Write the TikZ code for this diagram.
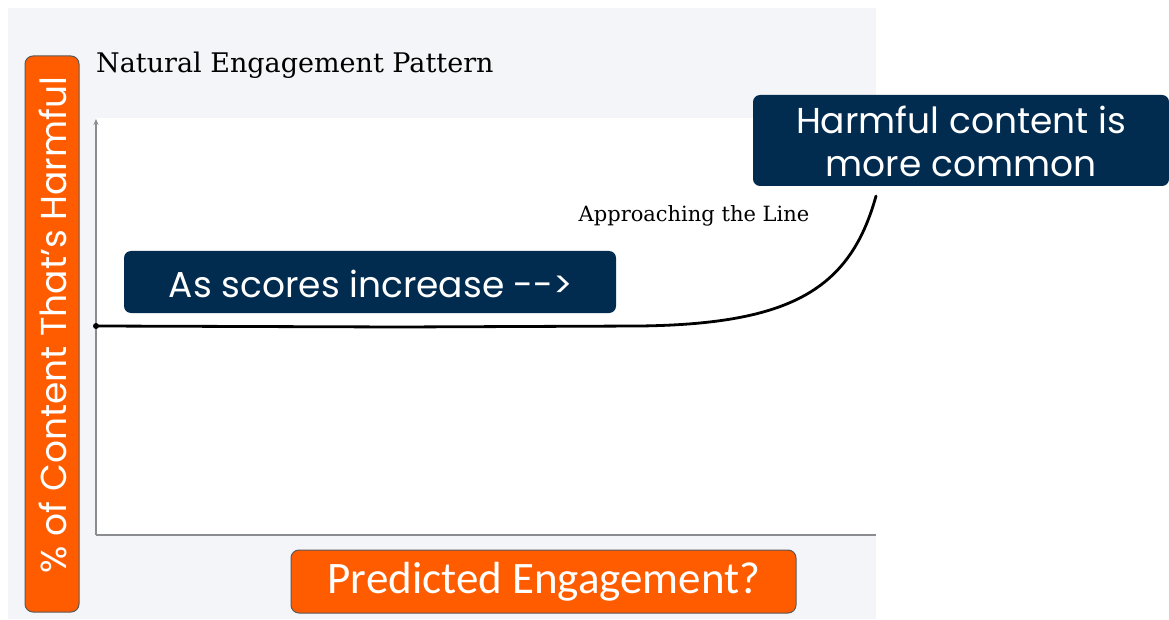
\documentclass[tikz,border=0pt]{standalone}
\usepackage{fontspec}
\usetikzlibrary{arrows.meta}
\setmainfont{DejaVu Serif}
\newfontfamily\boxfont{Poppins}
\newfontfamily\condfont{Carlito}
\definecolor{panel}{HTML}{F3F5F9}
\definecolor{navy}{HTML}{022C4F}
\definecolor{orng}{HTML}{FF5C00}
\definecolor{axisgray}{HTML}{8A8C90}
\tikzset{
  navybox/.style={fill=navy, rounded corners=7pt},
  boxtext/.style={text=white, font=\boxfont\fontsize{36}{43}\selectfont, inner sep=0pt, align=center},
  orngbox/.style={fill=orng, draw=black!65, line width=1pt, rounded corners=8pt},
  axisline/.style={draw=axisgray, line width=1.2pt},
}
\begin{document}
\begin{tikzpicture}[x=1pt,y=-1pt]
\useasboundingbox (0,0) rectangle (1169,620);
\fill[white] (0,0) rectangle (1169,620);
% panel
\fill[panel] (8,8) rectangle (876,619);
\fill[white] (96,118) rectangle (876,535);
% title
\node[anchor=base west, font=\fontsize{27}{32}\selectfont, inner sep=0pt] (title) at (96,73) {Natural Engagement Pattern};
% axes
\coordinate (origin) at (96,535);
\coordinate (ytop) at (96,119);
\coordinate (xend) at (876,535);
\draw[axisline, -{Stealth[length=6pt,width=5pt]}] (origin) -- (ytop);
\draw[axisline] (origin) -- (xend);
% curve
\coordinate (c0) at (96,326);
\coordinate (c1) at (640,326);
\coordinate (c2) at (876,196);
\draw[line width=2.8pt, line cap=round] (c0) -- (400,327) -- (c1) .. controls (790,324) and (850,290) .. (c2);
\fill (c0) circle (3pt);
% labels
\node[anchor=center, font=\fontsize{21}{25}\selectfont, inner sep=0pt] (approach) at (694,216) {Approaching the Line};
\path[navybox] (124,251) rectangle (616,313);
\node[boxtext] (scores) at (371,284) {As scores increase -{}->};
\path[navybox] (753,95) rectangle (1169,186);
\node[boxtext] (harm) at (961,141) {Harmful content is\\more common};
% orange boxes
\path[orngbox] (25,56) rectangle (79,612);
\node[boxtext, rotate=90] (ylab) at (53,325) {\% of Content That’s Harmful};
\path[orngbox] (291,550) rectangle (796,613);
\node[text=white, font=\condfont\fontsize{45}{50}\selectfont, inner sep=0pt] (xlab) at (544,582) {Predicted Engagement?};
\end{tikzpicture}
\end{document}
